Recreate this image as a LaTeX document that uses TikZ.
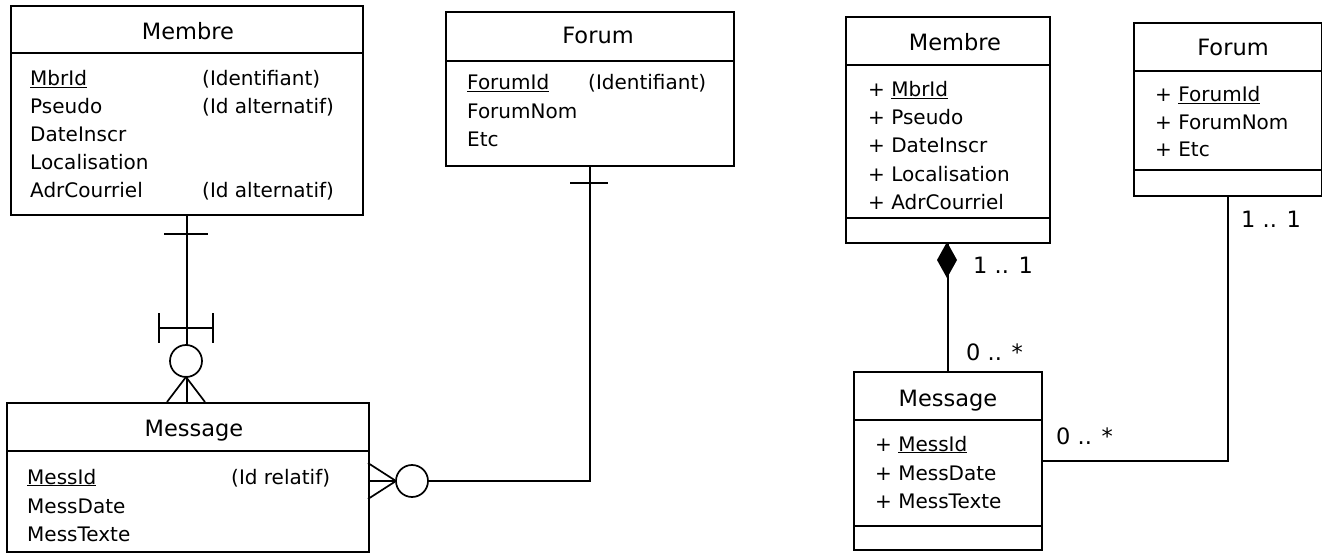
\documentclass[tikz,border=0pt]{standalone}
\usepackage{fontspec}
\setmainfont{DejaVu Sans}
\usetikzlibrary{calc}
\begin{document}
\begin{tikzpicture}[x=1pt,y=-1pt,
  box/.style={draw,line width=1.7pt,rectangle,inner sep=0pt,anchor=north west},
  lbl/.style={anchor=base west,inner sep=0pt,font=\fontsize{20}{24}\selectfont},
  mult/.style={anchor=base west,inner sep=0pt,font=\fontsize{22.5}{26}\selectfont},
  ttl/.style={anchor=base,inner sep=0pt,font=\fontsize{22.5}{26}\selectfont},
  ln/.style={line width=1.7pt},
]
\useasboundingbox (0,0) rectangle (1322,553);

% ===== Left: ERD =====
% Membre
\node[box,minimum width=352pt,minimum height=209pt] (mbrL) at (10,5) {};
\draw[ln] (10,53) -- (362,53);
\node[ttl] (mbrLt) at (188,40) {Membre};
\node[lbl] (mbrL1) at (30,86) {\underline{MbrId}};
\node[lbl] (mbrL2) at (30,114) {Pseudo};
\node[lbl] (mbrL3) at (30,142) {DateInscr};
\node[lbl] (mbrL4) at (30,170) {Localisation};
\node[lbl] (mbrL5) at (30,198) {AdrCourriel};
\node[lbl] (mbrL1b) at (202,86) {(Identifiant)};
\node[lbl] (mbrL2b) at (202,114) {(Id alternatif)};
\node[lbl] (mbrL5b) at (202,198) {(Id alternatif)};

% Forum
\node[box,minimum width=288pt,minimum height=154pt] (fmL) at (445,11) {};
\draw[ln] (445,61) -- (733,61);
\node[ttl] (fmLt) at (598,44) {Forum};
\node[lbl] (fmL1) at (467,90) {\underline{ForumId}};
\node[lbl] (fmL2) at (467,119) {ForumNom};
\node[lbl] (fmL3) at (467,147) {Etc};
\node[lbl] (fmL1b) at (588,90) {(Identifiant)};

% Message
\node[box,minimum width=362pt,minimum height=149pt] (msgL) at (6,402) {};
\draw[ln] (6,451) -- (368,451);
\node[ttl] (msgLt) at (194,436) {Message};
\node[lbl] (msgL1) at (27,484) {\underline{MessId}};
\node[lbl] (msgL2) at (27,513) {MessDate};
\node[lbl] (msgL3) at (27,541) {MessTexte};
\node[lbl] (msgL1b) at (231,484) {(Id relatif)};

% Membre -- Message
\draw[ln] (mbrL.south) -- (mbrL.south |- msgL.north);
\draw[ln] (164,234) -- (208,234);
\draw[ln] (159,313) -- (159,343) (213,313) -- (213,343) (159,328) -- (213,328);
\draw[ln,fill=white] (186,361) circle (16pt);
\draw[ln] (167,402) -- (186,377) -- (205,402);

% Message -- Forum
\draw[ln] (msgL.east |- 0,481) -- (fmL.south |- 0,481) -- (fmL.south);
\draw[ln] (368,463) -- (396,481) -- (368,499);
\draw[ln,fill=white] (412,481) circle (16pt);
\draw[ln] (570,183) -- (608,183);

% ===== Right: UML =====
% Membre
\node[box,minimum width=204pt,minimum height=226pt] (mbrR) at (845,16) {};
\draw[ln] (845,65) -- (1049,65);
\draw[ln] (845,218) -- (1049,218);
\node[ttl] (mbrRt) at (955,51) {Membre};
\node[lbl] (mbrR1) at (868,97) {+ \underline{MbrId}};
\node[lbl] (mbrR2) at (868,125) {+ Pseudo};
\node[lbl] (mbrR3) at (868,153) {+ DateInscr};
\node[lbl] (mbrR4) at (868,182) {+ Localisation};
\node[lbl] (mbrR5) at (868,210) {+ AdrCourriel};

% Forum
\node[box,minimum width=188pt,minimum height=173pt] (fmR) at (1133,22) {};
\draw[ln] (1133,71) -- (1321,71);
\draw[ln] (1133,170) -- (1321,170);
\node[ttl] (fmRt) at (1233,56) {Forum};
\node[lbl] (fmR1) at (1155,102) {+ \underline{ForumId}};
\node[lbl] (fmR2) at (1155,130) {+ ForumNom};
\node[lbl] (fmR3) at (1155,157) {+ Etc};

% Message
\node[box,minimum width=188pt,minimum height=178pt] (msgR) at (853,371) {};
\draw[ln] (853,420) -- (1041,420);
\draw[ln] (853,526) -- (1041,526);
\node[ttl] (msgRt) at (948,406) {Message};
\node[lbl] (msgR1) at (875,451) {+ \underline{MessId}};
\node[lbl] (msgR2) at (875,480) {+ MessDate};
\node[lbl] (msgR3) at (875,508) {+ MessTexte};

% Membre -- Message (composition)
\draw[ln] (mbrR.south) -- (mbrR.south |- msgR.north);
\fill (947,242) -- (957,260) -- (947,278) -- (937,260) -- cycle;
\node[mult] (m11) at (973,274) {1 .. 1};
\node[mult] (m0s) at (966,360) {0 .. *};

% Message -- Forum
\draw[ln] (msgR.east |- 0,461) -- (fmR.south |- 0,461) -- (fmR.south);
\node[mult] (f11) at (1241,228) {1 .. 1};
\node[mult] (f0s) at (1056,444) {0 .. *};
\end{tikzpicture}
\end{document}
